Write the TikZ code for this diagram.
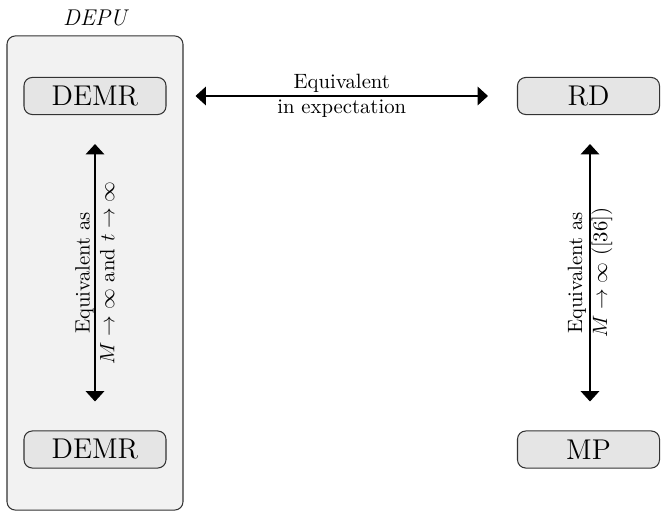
\documentclass[tikz,border=0pt]{standalone}
\usetikzlibrary{arrows.meta}
\begin{document}
\begin{tikzpicture}[x=0.483pt,y=-0.483pt,
  outerbox/.style={draw=black!80, fill=black!5, rounded corners=4pt, line width=0.5pt,
    minimum width=85pt, minimum height=229pt, inner sep=0pt},
  methodbox/.style={draw=black!80, fill=black!10, rounded corners=4pt, line width=0.5pt,
    minimum width=68.6pt, minimum height=17.9pt, inner sep=0pt,
    font=\fontsize{13.8}{16}\selectfont},
  equiv/.style={{Triangle[length=5pt,width=9pt]}-{Triangle[length=5pt,width=9pt]}, line width=0.5pt,
    shorten <=14pt, shorten >=14pt},
  lbl/.style={align=center, font=\normalsize, inner sep=1pt}
]
\useasboundingbox (0,0) rectangle (668,527);
\node[outerbox] (depu) at (95,273) {};
\node[font=\fontsize{11}{13}\selectfont\itshape] (depulabel) at (95,18) {DEPU};
\node[methodbox] (demr1) at (95,96) {DEMR};
\node[methodbox] (demr2) at (95,449.5) {DEMR};
\node[methodbox] (rd) at (588.5,96) {RD};
\node[methodbox] (mp) at (588.5,449.5) {MP};
\draw[equiv] (demr1) -- node[lbl] {Equivalent\\in expectation} (rd);
\draw[equiv] (demr1) -- node[lbl, rotate=90] {Equivalent as\\$M\to\infty$ and $t\to\infty$} (demr2);
\draw[equiv] (rd.south -| 590,0) -- node[lbl, rotate=90] {Equivalent as\\$M\to\infty$ ([36])} (mp.north -| 590,0);
\end{tikzpicture}
\end{document}
